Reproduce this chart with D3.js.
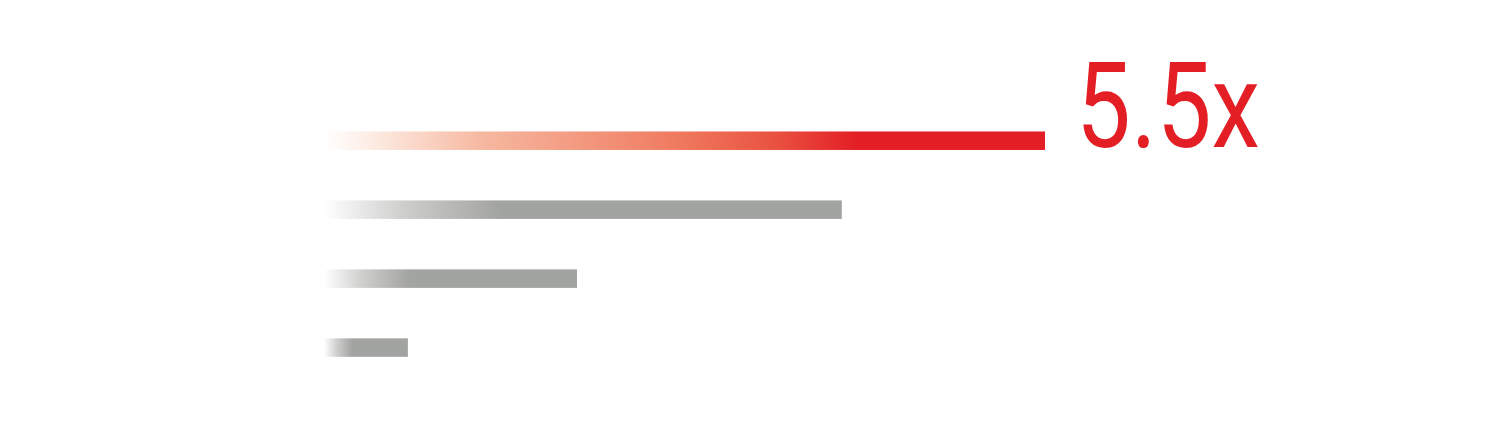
<!DOCTYPE html>
<html>
<head>
<meta charset="utf-8">
<script src="https://cdn.jsdelivr.net/npm/d3@7"></script>
<style>
html,body{margin:0;padding:0;background:#fff;}
svg{display:block;}
</style>
</head>
<body>
<svg id="chart" width="1512" height="437"></svg>
<script>
const categories = ["highlight", "b", "c", "d"];
const values = [5.5, 3.95, 1.93, 0.64];
const labels = ["5.5x", "", "", ""];
const highlight = [true, false, false, false];

const W = 1512, H = 437;
const svg = d3.select("#chart");

const x = d3.scaleLinear().domain([0, 5.5]).range([324, 1045]);
const y = d3.scaleBand().domain(categories).range([109.5, 378.8]).paddingInner(0.735).paddingOuter(0.32);

const defs = svg.append("defs");
const redG = defs.append("linearGradient").attr("id", "gRed").attr("x1", "0%").attr("x2", "100%").attr("y1", "0%").attr("y2", "0%");
[[0, "#ffffff"], [0.06, "#fdeee6"], [0.22, "#f6b8a0"], [0.49, "#ef7a5f"], [0.63, "#e95040"], [0.74, "#e31e24"], [1, "#e31e24"]]
  .forEach(([o, c]) => redG.append("stop").attr("offset", o).attr("stop-color", c));
const grayG = defs.append("linearGradient").attr("id", "gGray").attr("x1", "0%").attr("x2", "100%").attr("y1", "0%").attr("y2", "0%");
[[0, "#ffffff"], [0.15, "#cfcfce"], [0.34, "#a2a4a1"], [1, "#a2a4a1"]]
  .forEach(([o, c]) => grayG.append("stop").attr("offset", o).attr("stop-color", c));

const barH = 18.5;
const data = categories.map((c, i) => ({c, v: values[i], hl: highlight[i], label: labels[i]}));

svg.selectAll("rect.bar").data(data).join("rect")
  .attr("class", "bar")
  .attr("x", x(0))
  .attr("y", d => y(d.c) + y.bandwidth() / 2 - barH / 2)
  .attr("width", d => x(d.v) - x(0))
  .attr("height", barH)
  .attr("fill", d => d.hl ? "url(#gRed)" : "url(#gGray)");

svg.selectAll("text.lbl").data(data.filter(d => d.label)).join("text")
  .attr("class", "lbl")
  .attr("x", d => x(d.v) + 31)
  .attr("y", 146.5)
  .attr("font-family", "Roboto, 'Liberation Sans Narrow', sans-serif")
  .attr("font-weight", 400)
  .attr("font-size", 119)
  .attr("fill", "#e31e24")
  .attr("textLength", 184)
  .attr("lengthAdjust", "spacingAndGlyphs")
  .text(d => d.label);
</script>
</body>
</html>
